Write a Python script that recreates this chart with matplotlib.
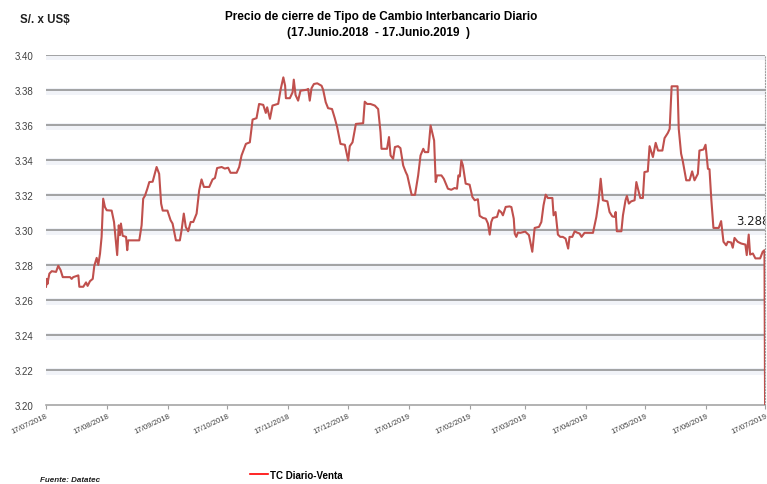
import datetime as dt

import matplotlib
matplotlib.use("Agg")
import matplotlib.pyplot as plt
from matplotlib.lines import Line2D

plt.rcParams["font.family"] = ["Liberation Sans Narrow", "Liberation Sans", "DejaVu Sans"]

# Serie: dias desde el 17/07/2018 y tipo de cambio venta
start_date = dt.datetime(2018, 7, 17)
day_offset = [
    0.0, 0.4, 0.7, 1.7, 2.9, 5.1, 6.2, 7.4, 8.5, 12.2, 13.0, 13.8, 16.4, 16.9,
    18.9, 20.3, 21.1, 22.3, 23.7, 24.5, 25.7, 26.5, 27.4, 28.2, 29.0, 29.9,
    30.8, 33.3, 34.5, 36.1, 36.9, 37.5, 38.0, 38.9, 40.6, 41.2, 41.7, 47.3,
    48.5, 49.3, 50.2, 51.4, 52.4, 54.1, 56.1, 57.4, 58.4, 59.2, 61.6, 63.2,
    64.2, 65.9, 67.9, 68.8, 69.9, 70.9, 72.1, 73.4, 74.7, 76.4, 77.7, 78.9,
    80.1, 82.8, 84.5, 85.7, 86.8, 89.1, 90.7, 92.4, 93.6, 96.7, 98.0, 99.2,
    101.4, 103.4, 104.8, 106.8, 108.1, 110.2, 111.5, 112.2, 113.6, 114.9,
    117.8, 119.0, 120.4, 121.3, 121.7, 123.7, 125.1, 125.7, 126.6, 127.9,
    129.1, 132.2, 133.0, 133.8, 134.7, 135.9, 137.6, 139.8, 140.6, 141.9,
    143.1, 145.1, 146.5, 147.7, 149.4, 151.6, 153.3, 154.1, 155.5, 157.2,
    160.9, 161.7, 162.9, 164.6, 166.8, 168.5, 169.7, 170.2, 173.0, 174.0,
    174.8, 176.1, 177.0, 178.6, 179.8, 181.2, 182.5, 183.3, 185.5, 187.2,
    188.8, 190.0, 191.4, 192.2, 193.9, 195.1, 196.1, 196.9, 197.7, 198.4,
    200.6, 201.8, 203.9, 205.6, 207.3, 208.5, 209.2, 209.9, 210.7, 211.5,
    212.9, 214.9, 216.3, 217.5, 219.1, 220.0, 221.7, 223.1, 224.2, 225.1,
    225.9, 226.7, 228.8, 229.8, 231.0, 231.8, 233.2, 235.2, 236.1, 237.3,
    237.8, 238.6, 239.4, 240.6, 243.1, 245.0, 246.7, 247.9, 250.1, 251.3,
    252.4, 253.5, 254.6, 256.9, 257.5, 258.5, 259.7, 260.9, 262.2, 263.6,
    264.9, 265.6, 267.0, 268.2, 269.3, 270.7, 271.7, 273.2, 277.5, 279.2,
    280.3, 281.4, 282.5, 284.8, 285.9, 287.3, 288.5, 289.0, 289.6, 291.9,
    292.7, 294.0, 294.7, 295.7, 296.9, 298.6, 299.5, 300.3, 301.5, 302.8,
    303.6, 305.3, 306.2, 307.9, 309.3, 310.5, 312.7, 313.8, 315.5, 316.4,
    317.4, 320.4, 321.0, 322.2, 323.0, 324.8, 326.5, 327.8, 329.0, 330.7,
    331.5, 333.6, 334.6, 335.8, 336.6, 337.5, 338.6, 341.3, 342.5, 343.7,
    345.1, 345.9, 347.6, 348.4, 349.3, 350.9, 352.7, 354.8, 355.5, 356.5,
    357.2, 358.6, 359.9, 362.3, 363.6, 364.5, 364.8,
]
tc_venta = [
    3.2675, 3.272, 3.269, 3.275, 3.2764, 3.276, 3.2795, 3.277, 3.273, 3.273,
    3.272, 3.273, 3.274, 3.2675, 3.2675, 3.270, 3.268, 3.2707, 3.272, 3.2795,
    3.284, 3.280, 3.2865, 3.296, 3.3178, 3.313, 3.3112, 3.311, 3.3045, 3.2856,
    3.3026, 3.297, 3.3036, 3.2966, 3.296, 3.2884, 3.294, 3.294, 3.3026,
    3.3178, 3.3195, 3.3235, 3.3273, 3.3275, 3.3359, 3.332, 3.315, 3.311,
    3.311, 3.3055, 3.3036, 3.294, 3.294, 3.300, 3.3093, 3.3017, 3.2992,
    3.3045, 3.3045, 3.3093, 3.3226, 3.3288, 3.3245, 3.3245, 3.3288, 3.3296,
    3.3353, 3.3359, 3.335, 3.3355, 3.3326, 3.3326, 3.3359, 3.3425, 3.3491,
    3.350, 3.363, 3.3638, 3.3719, 3.3714, 3.3668, 3.370, 3.3634, 3.371,
    3.372, 3.380, 3.3871, 3.3823, 3.3752, 3.3752, 3.3786, 3.3858, 3.377,
    3.3738, 3.3795, 3.380, 3.3805, 3.3738, 3.3809, 3.3833, 3.3837, 3.3823,
    3.380, 3.3729, 3.3695, 3.369, 3.3638, 3.3587, 3.3491, 3.3486, 3.3396,
    3.3478, 3.350, 3.3605, 3.3609, 3.3732, 3.3719, 3.3719, 3.371, 3.369,
    3.3558, 3.3463, 3.3463, 3.353, 3.3425, 3.3406, 3.3473, 3.3478, 3.3467,
    3.3368, 3.333, 3.3311, 3.320, 3.320, 3.3311, 3.3425, 3.3463, 3.3444,
    3.3444, 3.3596, 3.3548, 3.351, 3.3273, 3.3311, 3.3311, 3.3292, 3.3235,
    3.3229, 3.3239, 3.3235, 3.3311, 3.3305, 3.3396, 3.3368, 3.3264, 3.3258,
    3.3188, 3.3169, 3.3175, 3.308, 3.3068, 3.3064, 3.3036, 3.2973, 3.3045,
    3.3068, 3.3074, 3.3112, 3.310, 3.3083, 3.3131, 3.3134, 3.313, 3.3064,
    3.2979, 3.296, 3.2985, 3.2983, 3.299, 3.297, 3.2875, 3.3011, 3.3017,
    3.3045, 3.314, 3.3201, 3.3182, 3.3182, 3.3083, 3.3102, 3.2973, 3.296,
    3.296, 3.295, 3.2893, 3.296, 3.296, 3.2992, 3.2985, 3.2979, 3.296,
    3.2983, 3.2983, 3.3074, 3.316, 3.3292, 3.3169, 3.3163, 3.3102, 3.3077,
    3.3074, 3.3102, 3.2992, 3.2992, 3.3083, 3.3169, 3.3194, 3.315, 3.3163,
    3.3169, 3.3273, 3.3235, 3.3182, 3.3182, 3.333, 3.3334, 3.3478, 3.3416,
    3.3497, 3.3453, 3.3453, 3.3524, 3.3554, 3.3577, 3.382, 3.382, 3.3577,
    3.3435, 3.3396, 3.3283, 3.3283, 3.3334, 3.3283, 3.332, 3.3453, 3.3459,
    3.3486, 3.3349, 3.3346, 3.3178, 3.3011, 3.3011, 3.305, 3.2932, 3.2912,
    3.2932, 3.2928, 3.2898, 3.2954, 3.2932, 3.2922, 3.2916, 3.2856, 3.2973,
    3.2859, 3.2865, 3.2837, 3.2837, 3.2875, 3.2884, 3.20,
]
tick_labels = [
    "17/07/2018", "17/08/2018", "17/09/2018", "17/10/2018", "17/11/2018",
    "17/12/2018", "17/01/2019", "17/02/2019", "17/03/2019", "17/04/2019",
    "17/05/2019", "17/06/2019", "17/07/2019",
]
y_ticks = [3.20, 3.22, 3.24, 3.26, 3.28, 3.30, 3.32, 3.34, 3.36, 3.38, 3.40]
last_value_label = "3.288"

dates = [start_date + dt.timedelta(days=d) for d in day_offset]
tick_dates = [dt.datetime.strptime(s, "%d/%m/%Y") for s in tick_labels]

fig = plt.figure(figsize=(7.67, 4.85), dpi=100)
ax = fig.add_axes([0.060, 0.163, 0.938, 0.722])

# gridlines with a soft band under them (Excel look)
for v in y_ticks[1:]:
    ax.axhline(v - 0.0008, color="#f1f3f8", lw=5, zorder=0)
    ax.axhline(v, color="#8c8c8c", lw=1.1, zorder=1)

ax.plot(dates, tc_venta, color="#c0504d", lw=1.5, zorder=3)

ax.set_xlim(tick_dates[0], tick_dates[-1])
ax.set_ylim(3.20, 3.40)
ax.set_yticks(y_ticks)
ax.set_yticklabels([f"{v:.2f}" for v in y_ticks], fontsize=7, color="#404040")
ax.set_xticks(tick_dates)
ax.set_xticklabels(tick_labels, fontsize=5.6, color="#404040",
                   rotation=25, ha="right", rotation_mode="anchor")
ax.tick_params(axis="y", length=0, pad=9)
ax.tick_params(axis="x", length=3, color="#a0a0a0", pad=2)

for side in ["top", "left"]:
    ax.spines[side].set_visible(False)
ax.spines["bottom"].set_color("#a6a6a6")
ax.spines["bottom"].set_linewidth(1.2)
ax.spines["right"].set_color("#a0a0a0")
ax.spines["right"].set_linestyle(":")
ax.spines["right"].set_linewidth(0.8)

ax.text(start_date + dt.timedelta(days=350.3), 3.3053, last_value_label,
        fontsize=8.5, family="DejaVu Sans", ha="left", va="center",
        color="#202020", clip_on=True)

fig.text(0.026, 0.959, "S/. x US$", fontsize=8.3, fontweight="bold",
         ha="left", va="center", color="#202020")
fig.text(0.497, 0.965, "Precio de cierre de Tipo de Cambio Interbancario Diario",
         fontsize=8.5, fontweight="bold", ha="center", va="center")
fig.text(0.494, 0.932, "(17.Junio.2018  - 17.Junio.2019  )",
         fontsize=8.5, fontweight="bold", ha="center", va="center")
fig.text(0.052, 0.010, "Fuente: Datatec", fontsize=5.8, fontweight="bold",
         style="italic", ha="left", va="center", color="#202020")

handle = Line2D([], [], color="red", lw=1.2)
fig.legend(handles=[handle], labels=["TC Diario-Venta"], loc="center left",
           bbox_to_anchor=(0.326, 0.019), frameon=False, handlelength=1.8,
           handletextpad=0.3, borderpad=0, borderaxespad=0,
           prop={"size": 7, "weight": "bold"})

fig.savefig("out.png", dpi=100)
